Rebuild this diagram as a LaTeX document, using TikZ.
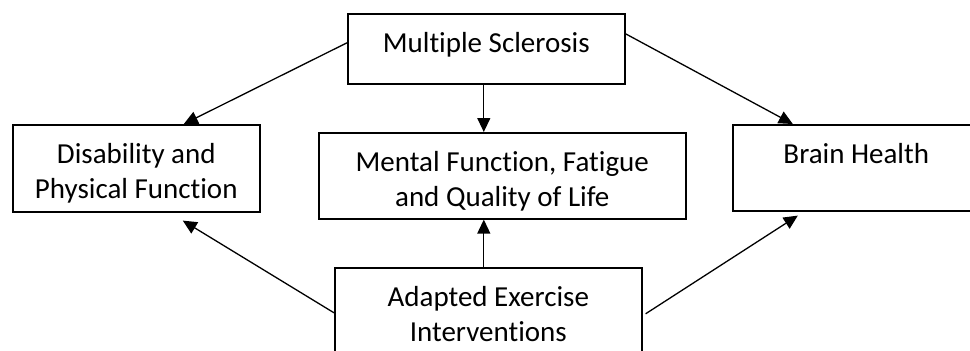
\documentclass[tikz,border=0pt]{standalone}
\usepackage{fontspec}
\setmainfont{Carlito}[Ligatures=NoCommon]
\usetikzlibrary{arrows.meta}

\NewDocumentCommand{\studybox}{mmmmmm}{%
\node[draw,line width=1.6bp,inner sep=0pt,minimum width=#4,minimum height=#5,anchor=north west] (#1) at (#2,#3) {};%
\node[anchor=base,inner sep=0pt,font=\fontsize{29bp}{35bp}\selectfont] (#1txt) at ([yshift=-39bp]#1.north) {\parbox[t]{#4}{\centering #6}};%
}

\begin{document}
\begin{tikzpicture}[x=1bp,y=-1bp,>={Triangle[length=14bp,width=13bp]}]
            \path[use as bounding box,clip] (0,0) rectangle (970,350);

            \studybox{ms}{347}{13}{277bp}{70bp}{Multiple Sclerosis}
            \studybox{dis}{12}{124}{247bp}{87bp}{Disability and\\Physical Function}
            \studybox{men}{318}{132}{367bp}{86bp}{Mental Function, Fatigue\\and Quality of Life}
            \studybox{brain}{732}{124}{247bp}{86bp}{Brain Health}
            \studybox{ex}{334}{267}{307bp}{100bp}{Adapted Exercise\\Interventions}

            % MS paths.
            \draw[->,line width=1.3bp] ([yshift=6bp]ms.west) -- ([xshift=47.5bp]dis.north);
            \draw[->,line width=1.3bp] ([xshift=-2.5bp]ms.south) -- ([xshift=-2.5bp]ms.south |- men.north);
            \draw[->,line width=1.3bp] ([yshift=15bp]ms.east) -- ([xshift=-63.5bp]brain.north);
            % Exercise paths.
            \draw[->,line width=1.3bp] ([yshift=5bp]ex.west) -- ([shift={(46.5bp,-8bp)}]dis.south);
            \draw[->,line width=1.3bp] ([xshift=-4.5bp]ex.north) -- ([xshift=-4.5bp]ex.north |- men.south);
            \draw[->,line width=1.3bp] ([shift={(3bp,4bp)}]ex.east) -- ([shift={(-58.5bp,-4bp)}]brain.south);
        \end{tikzpicture}
\end{document}
